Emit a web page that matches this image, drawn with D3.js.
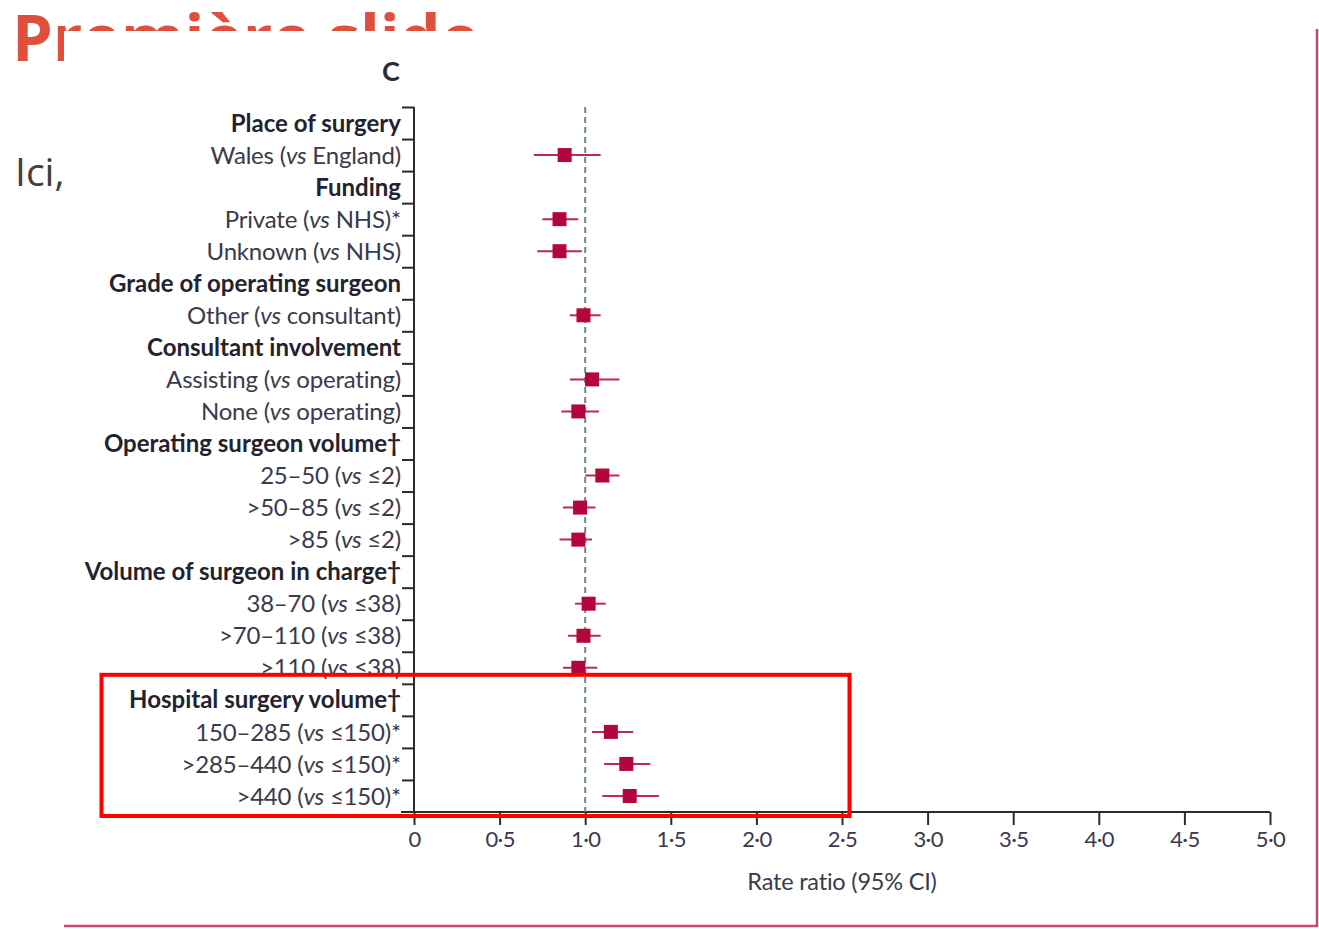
<!DOCTYPE html>
<html>
<head>
<meta charset="utf-8">
<script src="https://cdn.jsdelivr.net/npm/d3@7"></script>
<style>
  html, body { margin: 0; padding: 0; background: #fff; }
  svg { display: block; }
</style>
</head>
<body>
<svg id="chart" width="1319" height="929"></svg>
<script>
// ---------- data ----------
const rowLabels = [
  "Place of surgery",
  "Wales (vs England)",
  "Funding",
  "Private (vs NHS)*",
  "Unknown (vs NHS)",
  "Grade of operating surgeon",
  "Other (vs consultant)",
  "Consultant involvement",
  "Assisting (vs operating)",
  "None (vs operating)",
  "Operating surgeon volume†",
  "25–50 (vs ≤2)",
  ">50–85 (vs ≤2)",
  ">85 (vs ≤2)",
  "Volume of surgeon in charge†",
  "38–70 (vs ≤38)",
  ">70–110 (vs ≤38)",
  ">110 (vs ≤38)",
  "Hospital surgery volume†",
  "150–285 (vs ≤150)*",
  ">285–440 (vs ≤150)*",
  ">440 (vs ≤150)*"
];
const rowIsHeader = [true,false,true,false,false,true,false,true,false,false,true,false,false,false,true,false,false,false,true,false,false,false];
const estimates = [null,0.88,null,0.85,0.85,null,0.99,null,1.04,0.96,null,1.10,0.97,0.96,null,1.02,0.99,0.96,null,1.15,1.24,1.26];
const lowerCI   = [null,0.70,null,0.75,0.72,null,0.91,null,0.91,0.86,null,1.00,0.87,0.85,null,0.94,0.90,0.87,null,1.04,1.11,1.10];
const upperCI   = [null,1.09,null,0.96,0.98,null,1.09,null,1.20,1.08,null,1.20,1.06,1.04,null,1.12,1.09,1.07,null,1.28,1.38,1.43];
const xTickValues = [0,0.5,1,1.5,2,2.5,3,3.5,4,4.5,5];
const xTickLabels = ["0","0·5","1·0","1·5","2·0","2·5","3·0","3·5","4·0","4·5","5·0"];
const referenceValue = 1;
const panelLabel = "C";
const xAxisTitle = "Rate ratio (95% CI)";
const slideTitle = "Première slide";
const slideText = "Ici,";
const highlightRows = ["Hospital surgery volume†", ">440 (vs ≤150)*"];

// ---------- layout ----------
const svg = d3.select("#chart");
const W = 1319, H = 929;
const chartFont = "Lato, 'Open Sans', sans-serif";
const plotLeft = 414, plotRight = 1270, plotTop = 107, plotBottom = 812;

svg.append("rect").attr("width", W).attr("height", H).attr("fill", "#fff");

// slide background texts (partially covered by the picture)
svg.append("text").attr("x", 12).attr("y", 61)
  .attr("font-family", "'Open Sans', sans-serif").attr("font-weight", 700)
  .attr("font-size", 65).attr("fill", "#e04e3d").text(slideTitle);
svg.append("text").attr("x", 15).attr("y", 186)
  .attr("font-family", "'Open Sans', sans-serif").attr("font-size", 39)
  .attr("fill", "#404040").text(slideText);

// picture frame
const img = svg.append("g");
img.append("rect").attr("x", 64).attr("y", 31).attr("width", 1253).attr("height", 895).attr("fill", "#fff");
img.append("line").attr("x1", 1317).attr("x2", 1317).attr("y1", 29).attr("y2", 927)
  .attr("stroke", "#c8466f").attr("stroke-width", 2.5);
img.append("line").attr("x1", 64).attr("x2", 1318).attr("y1", 926).attr("y2", 926)
  .attr("stroke", "#c8466f").attr("stroke-width", 2.5);

// scales
const x = d3.scaleLinear().domain([0, 5]).range([plotLeft, plotRight]);
const y = d3.scaleBand().domain(rowLabels).range([plotTop, plotBottom]).padding(0);
const yEdge = d3.scaleLinear().domain([0, rowLabels.length]).range([plotTop, plotBottom]);

// panel label
img.append("text").attr("x", 391).attr("y", 81).attr("text-anchor", "middle")
  .attr("font-family", chartFont).attr("font-weight", 700).attr("font-size", 27)
  .attr("fill", "#2a2a36").text(panelLabel);

// y-axis with boundary ticks
const yAxisG = img.append("g").attr("transform", `translate(${plotLeft},0)`)
  .call(d3.axisLeft(yEdge).tickValues(d3.range(0, rowLabels.length)).tickSizeInner(12).tickSizeOuter(0).tickFormat(""));
yAxisG.selectAll("path, line").attr("stroke", "#2b2b2b").attr("stroke-width", 2);
yAxisG.select(".domain").attr("d", `M0,${plotTop}V${plotBottom}`);

// row labels
const labelG = img.append("g");
rowLabels.forEach((lab, i) => {
  const t = labelG.append("text")
    .attr("x", 401).attr("y", y(lab) + y.bandwidth() / 2)
    .attr("dy", "0.36em").attr("text-anchor", "end")
    .attr("font-family", chartFont).attr("font-size", 24)
    .attr("font-weight", rowIsHeader[i] ? 700 : 400)
    .attr("fill", rowIsHeader[i] ? "#23232f" : "#3a3a4c")
    .attr("letter-spacing", rowIsHeader[i] ? 0 : -0.2);
  const parts = lab.split("(vs ");
  if (parts.length === 2) {
    t.append("tspan").text(parts[0] + "(");
    t.append("tspan").attr("font-style", "italic").text("vs");
    t.append("tspan").text(" " + parts[1]);
  } else {
    t.text(lab);
  }
});

// x-axis
const xAxisG = img.append("g").attr("transform", `translate(0,${plotBottom})`)
  .call(d3.axisBottom(x).tickValues(xTickValues).tickSizeInner(13).tickSizeOuter(0).tickPadding(6)
    .tickFormat((d, i) => xTickLabels[i]));
xAxisG.selectAll("path, line").attr("stroke", "#2b2b2b").attr("stroke-width", 2);
xAxisG.select(".domain").attr("d", `M${plotLeft - 13},0H${plotRight}`);
xAxisG.selectAll("text").attr("font-family", chartFont).attr("font-size", 22)
  .attr("fill", "#3a3a4c").attr("letter-spacing", -0.6);

img.append("text").attr("x", x(2.5)).attr("y", 890).attr("text-anchor", "middle")
  .attr("font-family", chartFont).attr("font-size", 23.5).attr("letter-spacing", -0.2)
  .attr("fill", "#3a3a4c").text(xAxisTitle);

// reference line
img.append("line").attr("x1", x(referenceValue)).attr("x2", x(referenceValue))
  .attr("y1", plotTop).attr("y2", plotBottom)
  .attr("stroke", "#6b858c").attr("stroke-width", 2).attr("stroke-dasharray", "6,4");

// estimates
const pts = rowLabels.map((lab, i) => ({lab, est: estimates[i], lo: lowerCI[i], hi: upperCI[i]}))
  .filter(d => d.est !== null);
const markG = img.append("g");
markG.selectAll("line.ci").data(pts).join("line").attr("class", "ci")
  .attr("x1", d => x(d.lo)).attr("x2", d => x(d.hi))
  .attr("y1", d => y(d.lab) + y.bandwidth() / 2).attr("y2", d => y(d.lab) + y.bandwidth() / 2)
  .attr("stroke", "#c1275a").attr("stroke-width", 2);
const sq = 14;
markG.selectAll("rect.est").data(pts).join("rect").attr("class", "est")
  .attr("x", d => x(d.est) - sq / 2).attr("y", d => y(d.lab) + y.bandwidth() / 2 - sq / 2)
  .attr("width", sq).attr("height", sq).attr("fill", "#b3063b");

// highlight box
const hTop = y(highlightRows[0]) - 9;
const hBottom = y(highlightRows[1]) + y.bandwidth() + 4;
img.append("rect").attr("x", 101.5).attr("y", hTop).attr("width", 748).attr("height", hBottom - hTop)
  .attr("fill", "none").attr("stroke", "#ff0000").attr("stroke-width", 4);
</script>
</body>
</html>
